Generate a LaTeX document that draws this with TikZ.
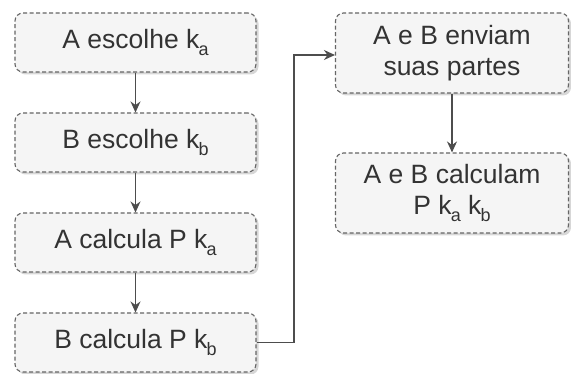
\documentclass[tikz,border=0pt]{standalone}
\usepackage{fontspec}
\setmainfont{Liberation Sans}
\usetikzlibrary{shadows,arrows.meta}
\newcommand{\lowsub}[1]{\kern-0.8pt\raisebox{-0.3em}{\fontsize{18}{18}\selectfont #1}}
\definecolor{boxfill}{HTML}{F5F5F5}
\definecolor{boxline}{HTML}{666666}
\definecolor{arrowc}{HTML}{4D4D4D}
\tikzset{
  stepbox/.style={draw=boxline, line width=1.1pt, dash pattern=on 4pt off 2.5pt,
    fill=boxfill, rounded corners=8pt, inner sep=0pt, align=center,
    text=black!80, font=\fontsize{26.5}{31}\selectfont,
    drop shadow={shadow xshift=2.5pt, shadow yshift=-2.5pt, opacity=0.35, fill=black!45}},
  leftbox/.style={stepbox, minimum width=241pt, minimum height=59pt},
  rightbox/.style={stepbox, minimum width=233pt, minimum height=80pt},
  conn/.style={draw=arrowc, line width=1.3pt, -{Stealth[length=11pt,width=10pt]}}
}
\begin{document}
\begin{tikzpicture}[x=1pt,y=-1pt]
\useasboundingbox (0,0) rectangle (571,374);
\node[leftbox] (a) at (135.5,42.5) {A escolhe k\lowsub{a}};
\node[leftbox] (b) at (135.5,142.5) {B escolhe k\lowsub{b}};
\node[leftbox] (c) at (135.5,242.5) {A calcula P k\lowsub{a}};
\node[leftbox] (d) at (135.5,342.5) {B calcula P k\lowsub{b}};
\node[rightbox] (e) at (452,53) {A e B enviam\\suas partes};
\node[rightbox] (f) at (452,193) {A e B calculam\\P k\lowsub{a} k\lowsub{b}};
\draw[conn] (a) -- (b);
\draw[conn] (b) -- (c);
\draw[conn] (c) -- (d);
\draw[conn] (e) -- (f);
\coordinate (j1) at (294,342.5);
\coordinate (j2) at (294,55);
\draw[conn] (d.east) -- (j1) -- (j2) -- (j2 -| e.west);
\end{tikzpicture}
\end{document}
